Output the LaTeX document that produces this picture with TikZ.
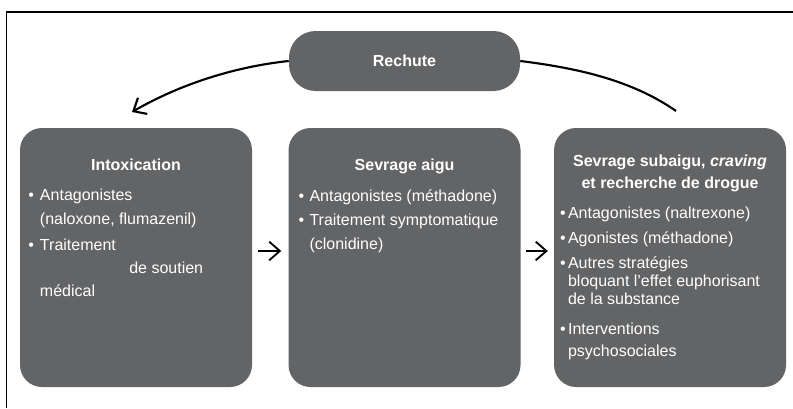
\documentclass[tikz,border=0pt]{standalone}
\usepackage{fontspec}
\setmainfont{Liberation Sans}
\usetikzlibrary{arrows.meta,positioning}
\definecolor{boxgray}{RGB}{99,100,102}
\newcommand{\puce}[1]{\llap{\textbullet\hspace{#1}}}

\tikzset{
  stage/.style={fill=boxgray, rounded corners=16.5pt, minimum width=174pt, minimum height=194.25pt, inner sep=0pt},
  pill/.style={fill=boxgray, rounded corners=20pt, minimum width=173.25pt, minimum height=45pt, text=white, font=\bfseries\fontsize{12}{13.5}\selectfont},
  heading/.style={text=white, align=center, inner sep=0pt, font=\bfseries\fontsize{12}{17}\selectfont},
  bodytext/.style={text=white, align=left, inner sep=0pt, font=\fontsize{12}{17.5}\selectfont},
  tightbody/.style={bodytext, font=\fontsize{12}{13.5}\selectfont},
  fleche/.style={-{Straight Barb[length=8pt,width=14pt]}, line width=1.4pt},
  frame/.style={line width=1.2pt}
}

\begin{document}
\begin{tikzpicture}[x=0.75pt, y=-0.75pt]
  \useasboundingbox (0,0) rectangle (793,408);
  \draw[frame] (793,12) -- (6.5,12) -- (6.5,408);

  % top of the cycle
  \node[pill] (rechute) at (404.5,61) {Rechute};

  % the three stages
  \node[stage] (intox) at (136,257.5) {};
  \node[stage, right=27pt of intox] (aigu) {};
  \node[stage, right=24.75pt of aigu] (subaigu) {};

  \node[heading, below=23pt of intox.north] (intoxT) {Intoxication};
  \node[heading, below=23pt of aigu.north] (aiguT) {Sevrage aigu};
  \node[heading, below=20pt of subaigu.north] (subaiguT) {Sevrage subaigu, \textit{craving}\\et recherche de drogue};

  \node[bodytext, anchor=north west, below right=46pt and 15pt of intox.north west] (intoxL)
    {\puce{4.6pt}Antagonistes\\(naloxone, flumazenil)\\[2pt]
     \puce{4.6pt}Traitement\\\hspace*{67pt}de soutien\\médical};
  \node[bodytext, anchor=north west, below right=46pt and 15.75pt of aigu.north west] (aiguL)
    {\puce{3.9pt}Antagonistes (méthadone)\\[1pt]
     \puce{3.9pt}Traitement symptomatique\\(clonidine)};
  \node[tightbody, anchor=north west, below right=59pt and 10.5pt of subaigu.north west] (subaiguL)
    {\puce{1.8pt}Antagonistes (naltrexone)\\[5.25pt]
     \puce{1.8pt}Agonistes (méthadone)\\[5.25pt]
     \puce{1.8pt}Autres stratégies\\bloquant l’effet euphorisant\\de la substance\\[9.5pt]
     \puce{1.8pt}Interventions\\[3pt]psychosociales};

  % arrows between stages
  \draw[fleche, shorten <=4.5pt, shorten >=5.25pt] ([yshift=4.9pt]intox.east) -- ([yshift=4.9pt]aigu.west);
  \draw[fleche, shorten <=3.75pt, shorten >=4.5pt] ([yshift=4.9pt]aigu.east) -- ([yshift=4.9pt]subaigu.west);

  % relapse loop
  \coordinate (retour) at (132,112);
  \coordinate (depart) at (676,111);
  \draw[fleche, line width=1.6pt] (rechute.west) .. controls (234,66.8) and (179.6,84.5) .. (retour);
  \draw[line width=1.6pt] (rechute.east) .. controls (575,67.8) and (631,79.5) .. (depart);
\end{tikzpicture}
\end{document}
